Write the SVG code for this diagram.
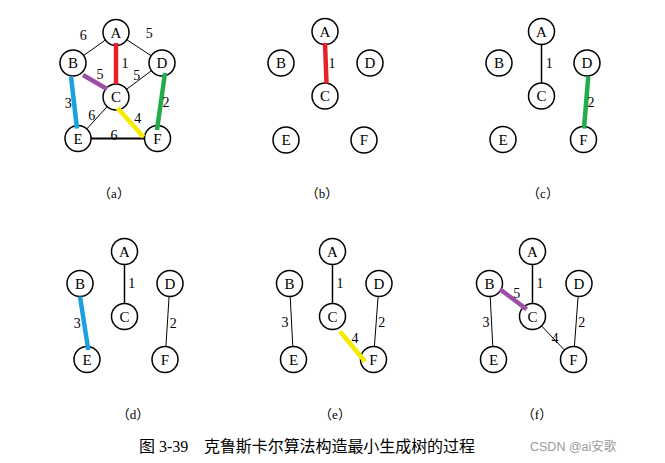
<svg xmlns="http://www.w3.org/2000/svg" width="665" height="463" viewBox="0 0 665 463">
<style>
.n{fill:#fff;stroke:#000;stroke-width:1.5}
.t{font-family:"Liberation Serif","Noto Sans CJK SC",serif;font-size:15px;text-anchor:middle;fill:#000}
.w{font-family:"Liberation Serif",serif;font-size:14px;text-anchor:middle;fill:#000}
.e{stroke:#000;stroke-width:1;fill:none}
.k{stroke:#000;stroke-width:1.5;fill:none}
.r{stroke:#e8202a;stroke-width:4.5}
.g{stroke:#1fae4a;stroke-width:4.5}
.b{stroke:#1ba1e2;stroke-width:4.5}
.y{stroke:#f5ea00;stroke-width:4.5}
.p{stroke:#9b4fa6;stroke-width:4.5}
.cap{font-family:"Liberation Serif","Noto Sans CJK SC",serif;font-size:13px;text-anchor:middle;fill:#000}
</style>
<g id="nodes">
<g id="a-A"><circle class="n" cx="116" cy="32.5" r="13"/><text class="t" x="116" y="37.5">A</text></g>
<g id="a-B"><circle class="n" cx="73" cy="63" r="13"/><text class="t" x="73" y="68">B</text></g>
<g id="a-D"><circle class="n" cx="162" cy="63" r="13"/><text class="t" x="162" y="68">D</text></g>
<g id="a-C"><circle class="n" cx="116" cy="97" r="13"/><text class="t" x="116" y="102">C</text></g>
<g id="a-E"><circle class="n" cx="78" cy="138.5" r="13"/><text class="t" x="78" y="143.5">E</text></g>
<g id="a-F"><circle class="n" cx="157.5" cy="138.5" r="13"/><text class="t" x="157.5" y="143.5">F</text></g>

<g id="b-A"><circle class="n" cx="325" cy="31.5" r="13"/><text class="t" x="325" y="36.5">A</text></g>
<g id="b-B"><circle class="n" cx="281" cy="63" r="13"/><text class="t" x="281" y="68">B</text></g>
<g id="b-D"><circle class="n" cx="370" cy="63" r="13"/><text class="t" x="370" y="68">D</text></g>
<g id="b-C"><circle class="n" cx="325" cy="96" r="13"/><text class="t" x="325" y="101">C</text></g>
<g id="b-E"><circle class="n" cx="286" cy="140" r="13"/><text class="t" x="286" y="145">E</text></g>
<g id="b-F"><circle class="n" cx="364" cy="140" r="13"/><text class="t" x="364" y="145">F</text></g>

<g id="c-A"><circle class="n" cx="541.5" cy="31.5" r="13"/><text class="t" x="541.5" y="36.5">A</text></g>
<g id="c-B"><circle class="n" cx="499" cy="63" r="13"/><text class="t" x="499" y="68">B</text></g>
<g id="c-D"><circle class="n" cx="587" cy="63" r="13"/><text class="t" x="587" y="68">D</text></g>
<g id="c-C"><circle class="n" cx="541.5" cy="96" r="13"/><text class="t" x="541.5" y="101">C</text></g>
<g id="c-E"><circle class="n" cx="503" cy="139.5" r="13"/><text class="t" x="503" y="144.5">E</text></g>
<g id="c-F"><circle class="n" cx="583.5" cy="139.5" r="13"/><text class="t" x="583.5" y="144.5">F</text></g>

<g id="d-A"><circle class="n" cx="124.5" cy="251.5" r="13"/><text class="t" x="124.5" y="256.5">A</text></g>
<g id="d-B"><circle class="n" cx="80" cy="283.5" r="13"/><text class="t" x="80" y="288.5">B</text></g>
<g id="d-D"><circle class="n" cx="170" cy="283.5" r="13"/><text class="t" x="170" y="288.5">D</text></g>
<g id="d-C"><circle class="n" cx="124.5" cy="316.5" r="13"/><text class="t" x="124.5" y="321.5">C</text></g>
<g id="d-E"><circle class="n" cx="87" cy="359.5" r="13"/><text class="t" x="87" y="364.5">E</text></g>
<g id="d-F"><circle class="n" cx="165" cy="359.5" r="13"/><text class="t" x="165" y="364.5">F</text></g>

<g id="e-A"><circle class="n" cx="332.5" cy="251.5" r="13"/><text class="t" x="332.5" y="256.5">A</text></g>
<g id="e-B"><circle class="n" cx="289.5" cy="283.5" r="13"/><text class="t" x="289.5" y="288.5">B</text></g>
<g id="e-D"><circle class="n" cx="379" cy="283.5" r="13"/><text class="t" x="379" y="288.5">D</text></g>
<g id="e-C"><circle class="n" cx="332.5" cy="316.5" r="13"/><text class="t" x="332.5" y="321.5">C</text></g>
<g id="e-E"><circle class="n" cx="293.5" cy="359.5" r="13"/><text class="t" x="293.5" y="364.5">E</text></g>
<g id="e-F"><circle class="n" cx="373.5" cy="359.5" r="13"/><text class="t" x="373.5" y="364.5">F</text></g>

<g id="f-A"><circle class="n" cx="532.5" cy="251.5" r="13"/><text class="t" x="532.5" y="256.5">A</text></g>
<g id="f-B"><circle class="n" cx="489.5" cy="283.5" r="13"/><text class="t" x="489.5" y="288.5">B</text></g>
<g id="f-D"><circle class="n" cx="579" cy="283.5" r="13"/><text class="t" x="579" y="288.5">D</text></g>
<g id="f-C"><circle class="n" cx="532.5" cy="316.5" r="13"/><text class="t" x="532.5" y="321.5">C</text></g>
<g id="f-E"><circle class="n" cx="493.5" cy="359.5" r="13"/><text class="t" x="493.5" y="364.5">E</text></g>
<g id="f-F"><circle class="n" cx="573.5" cy="359.5" r="13"/><text class="t" x="573.5" y="364.5">F</text></g>
</g>

<g id="connectors">
<!-- (a) -->
<line class="e" x1="105.4" y1="40" x2="83.6" y2="55.5"/>
<line class="e" x1="126.8" y1="39.7" x2="151.2" y2="55.8"/>
<line class="e" x1="126.5" y1="89.3" x2="151.5" y2="70.7"/>
<line class="e" x1="107.2" y1="106.6" x2="86.8" y2="128.9"/>
<line class="e" style="stroke-width:2" x1="91" y1="138.5" x2="144.5" y2="138.5"/>
<line class="r" x1="116" y1="43" x2="116" y2="84"/>
<line class="p" x1="83" y1="75" x2="107" y2="89"/>
<line class="b" x1="71" y1="76.5" x2="77" y2="128.5"/>
<line class="g" x1="165" y1="73" x2="157" y2="130"/>
<line class="y" x1="117.5" y1="108" x2="143.5" y2="137"/>
<!-- (b) -->
<line class="r" x1="325" y1="43" x2="326.5" y2="83.5"/>
<!-- (c) -->
<line class="k" x1="541.5" y1="44.5" x2="541.5" y2="83"/>
<line class="g" x1="588.3" y1="76.5" x2="584" y2="128.5"/>
<!-- (d) -->
<line class="k" x1="124.5" y1="264.5" x2="124.5" y2="303.5"/>
<line class="b" x1="80" y1="296.5" x2="88.3" y2="350"/>
<line class="e" x1="169.1" y1="296.5" x2="165.9" y2="346.5"/>
<!-- (e) -->
<line class="k" x1="332.5" y1="264.5" x2="332.5" y2="303.5"/>
<line class="e" x1="290.2" y1="296.5" x2="292.8" y2="346.5"/>
<line class="e" x1="378.1" y1="296.5" x2="374.4" y2="346.5"/>
<line class="y" x1="340" y1="331.5" x2="365" y2="361.5"/>
<!-- (f) -->
<line class="k" x1="532.5" y1="264.5" x2="532.5" y2="303.5"/>
<line class="e" x1="490.2" y1="296.5" x2="492.8" y2="346.5"/>
<line class="e" x1="578.1" y1="296.5" x2="574.4" y2="346.5"/>
<line class="e" x1="541.5" y1="325.9" x2="564.5" y2="350.1"/>
<line class="p" x1="500" y1="289.3" x2="526.7" y2="309.3"/>
</g>

<g id="weights">
<text class="w" x="83.3" y="40">6</text>
<text class="w" x="149.3" y="37.7">5</text>
<text class="w" x="125" y="68.3">1</text>
<text class="w" x="100" y="79">5</text>
<text class="w" x="136.7" y="80">5</text>
<text class="w" x="68.3" y="107.7">3</text>
<text class="w" x="91.7" y="120">6</text>
<text class="w" x="137.7" y="123.3">4</text>
<text class="w" x="166" y="106.7">2</text>
<text class="w" x="114" y="140">6</text>

<text class="w" x="332" y="68.3">1</text>

<text class="w" x="549.3" y="68.3">1</text>
<text class="w" x="591" y="106.7">2</text>

<text class="w" x="131.7" y="288.3">1</text>
<text class="w" x="77.3" y="328.3">3</text>
<text class="w" x="173.3" y="328.3">2</text>

<text class="w" x="340" y="288.3">1</text>
<text class="w" x="285" y="326.7">3</text>
<text class="w" x="381.7" y="326.7">2</text>
<text class="w" x="355" y="343.3">4</text>

<text class="w" x="540" y="288.3">1</text>
<text class="w" x="516.7" y="298.3">5</text>
<text class="w" x="486" y="326.7">3</text>
<text class="w" x="581.7" y="326.7">2</text>
<text class="w" x="555" y="343.3">4</text>
</g>

<g id="captions">
<text class="cap" x="114" y="197.5">（a）</text>
<text class="cap" x="322" y="197.5">（b）</text>
<text class="cap" x="543" y="197.5">（c）</text>
<text class="cap" x="133" y="418.5">（d）</text>
<text class="cap" x="335" y="418.5">（e）</text>
<text class="cap" x="537" y="418.5">（f）</text>
<text x="139" y="451.5" style="font-family:'Liberation Serif','Noto Sans CJK SC',serif;font-size:16px;fill:#000">图 3-39</text>
<text x="204" y="451.5" textLength="271" style="font-family:'Liberation Serif','Noto Sans CJK SC',serif;font-size:16px;fill:#000">克鲁斯卡尔算法构造最小生成树的过程</text>
<text x="530" y="450.5" style="font-family:'Liberation Sans','Noto Sans CJK SC',sans-serif;font-size:12.5px;fill:#9a9a9a">CSDN @ai安歌</text>
</g>
</svg>
